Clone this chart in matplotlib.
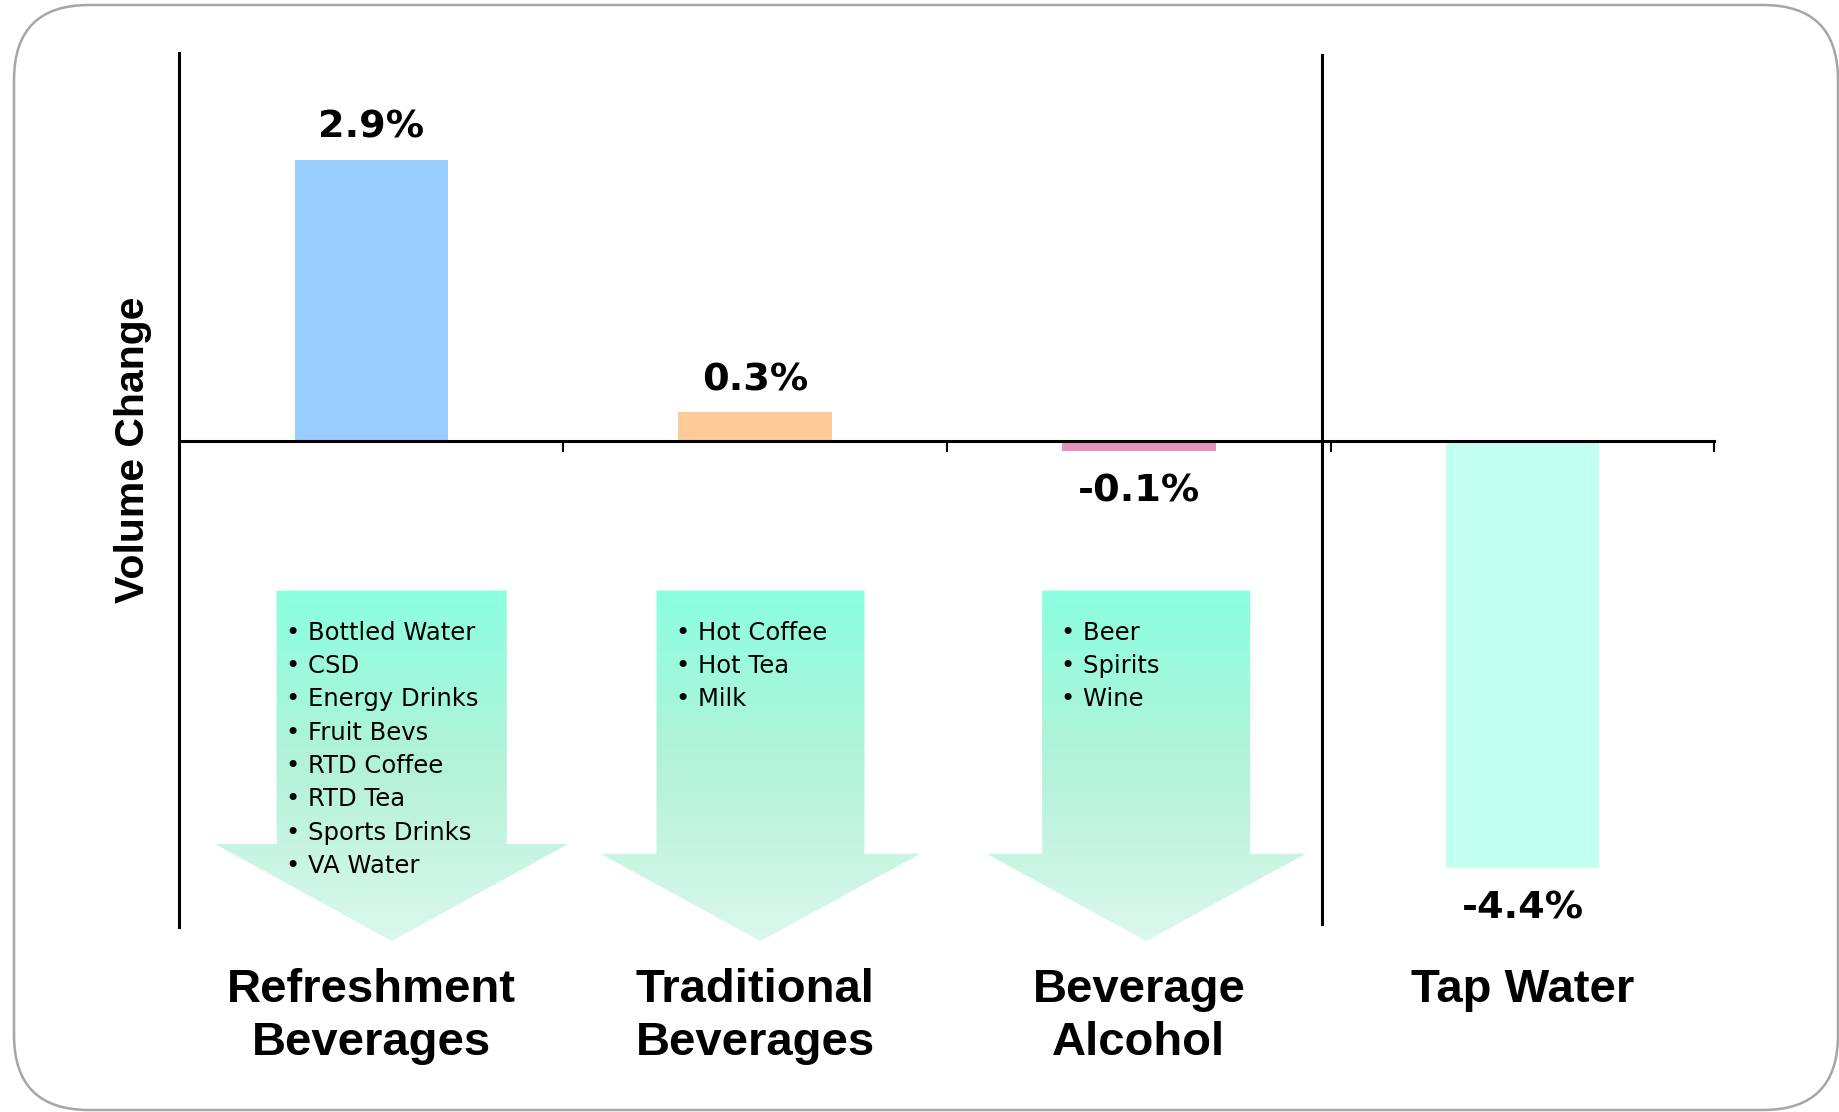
import numpy as np
import matplotlib
matplotlib.use('Agg')
import matplotlib.pyplot as plt
from matplotlib.patches import FancyBboxPatch, Polygon
from matplotlib.colors import LinearSegmentedColormap
from matplotlib.transforms import IdentityTransform, blended_transform_factory

categories = ["Refreshment\nBeverages", "Traditional\nBeverages", "Beverage\nAlcohol", "Tap Water"]
changes    = [2.9, 0.3, -0.1, -4.4]
bar_colors = ["#99ccff", "#ffcc99", "#e592bf", "#c2ffee"]

members = [
    ["Bottled Water", "CSD", "Energy Drinks", "Fruit Bevs",
     "RTD Coffee", "RTD Tea", "Sports Drinks", "VA Water"],
    ["Hot Coffee", "Hot Tea", "Milk"],
    ["Beer", "Spirits", "Wine"],
]

# arrow shapes: centre, shaft half width, head half width, y where the head starts
arrows = [
    (0.053, 0.300, 0.460, -4.15),
    (1.014, 0.271, 0.417, -4.25),
    (2.019, 0.271, 0.416, -4.25),
]

fig = plt.figure(figsize=(18.39, 11.12), dpi=100)
ax = fig.add_axes([0.0976, 0.1668, 0.8347, 0.7857])

x = np.arange(len(changes))
ax.bar(x, changes, width=0.40, color=bar_colors, zorder=2)
ax.set_xlim(-0.5, 3.5)
ax.set_ylim(-5, 4)

for sp in ["top", "right"]:
    ax.spines[sp].set_visible(False)
ax.spines["bottom"].set_position(("data", 0))
ax.spines["bottom"].set_linewidth(2.2)
ax.spines["left"].set_linewidth(2.2)
ax.spines["bottom"].set_zorder(3)
ax.set_yticks([])
ax.set_xticks(np.arange(-0.5, 3.6, 1.0))
ax.set_xticklabels([])
ax.tick_params(axis="x", direction="out", length=8, width=1.5)

# separator before tap water
ax.axvline(2.476, ymin=0.003, ymax=0.997, color="black", lw=2.2, zorder=3)

# value labels
for i, v in enumerate(changes):
    off = 23 if v > 0 else -29
    ax.annotate(f"{v:.1f}%", xy=(i, v), xytext=(0, off), textcoords="offset points",
                ha="center", va="center", fontsize=27.5, fontweight="bold",
                family="DejaVu Sans", zorder=4)

ax.text(-0.030, 0.546, "Volume Change", transform=ax.transAxes, rotation=90,
        ha="center", va="center", fontsize=29.5, fontweight="bold",
        family="Liberation Sans")

# gradient arrows with bullet lists
cmap = LinearSegmentedColormap.from_list("mint", ["#dbf8ec", "#b3f2d8", "#8bffe0"])
grad = np.linspace(0, 1, 256).reshape(-1, 1)
top_y = -1.54
tip_y = -5.15
for (cx, sw, hw, hy), items in zip(arrows, members):
    verts = [(cx - sw, top_y), (cx + sw, top_y), (cx + sw, hy), (cx + hw, hy),
             (cx, tip_y), (cx - hw, hy), (cx - sw, hy)]
    poly = Polygon(verts, closed=True, transform=ax.transData)
    im = ax.imshow(grad, cmap=cmap, aspect="auto", origin="lower",
                   extent=(cx - hw, cx + hw, tip_y, top_y), zorder=1)
    im.set_clip_box(fig.bbox)
    im.set_clip_path(poly)
    tx = cx - sw + 0.025 if cx < 0.5 else cx - sw + 0.05
    for k, name in enumerate(items):
        ax.text(tx, -1.975 - 0.343 * k, "\u2022 " + name, fontsize=17.5,
                family="DejaVu Sans", va="center", ha="left", zorder=4)

ax.set_ylim(-5, 4)
ax.set_xlim(-0.5, 3.5)

# category names below the plot
trans = blended_transform_factory(ax.transData, ax.transAxes)
for i, name in enumerate(categories):
    ax.annotate(name, xy=(i, 0), xycoords=trans, xytext=(0, -30),
                textcoords="offset points", ha="center", va="top",
                fontsize=34, fontweight="bold", family="Liberation Sans",
                linespacing=1.27, annotation_clip=False)

# rounded frame around the whole chart
frame = FancyBboxPatch((14, 2), 1824, 1105, boxstyle="round,pad=0,rounding_size=75",
                       transform=IdentityTransform(), facecolor="none",
                       edgecolor="#a6a6a6", linewidth=1.8)
fig.add_artist(frame)

fig.savefig("out.png", dpi=100)
